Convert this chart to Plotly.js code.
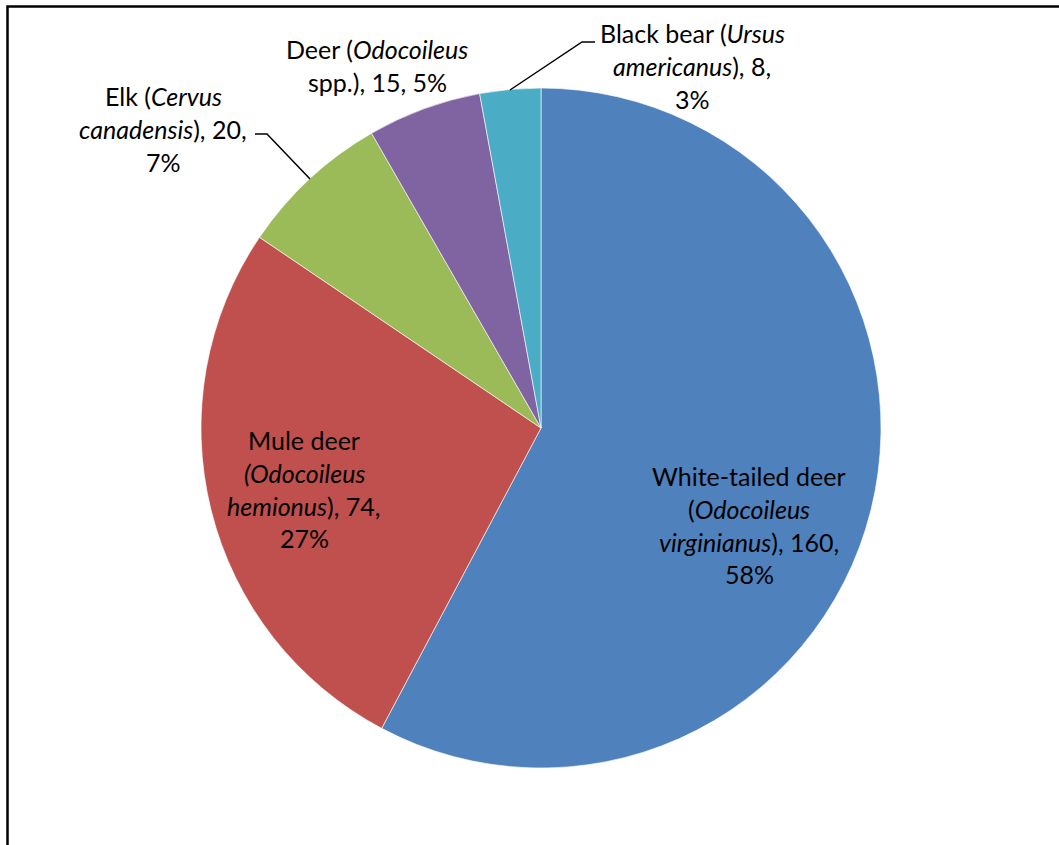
<!DOCTYPE html>
<html>
<head>
<meta charset="utf-8">
<script src="https://cdn.plot.ly/plotly-3.0.1.min.js"></script>
<style>html,body{margin:0;padding:0;background:#fff;}#chart{width:1059px;height:845px;}</style>
</head>
<body>
<div id="chart"></div>
<script>
// ---- data ----
const categories = ["White-tailed deer", "Mule deer", "Elk", "Deer", "Black bear"];
const scientificNames = ["Odocoileus virginianus", "Odocoileus hemionus", "Cervus canadensis", "Odocoileus spp.", "Ursus americanus"];
const values = [160, 74, 20, 15, 8];
const colors = ["#4F81BD", "#C0504D", "#9BBB59", "#8064A2", "#4BACC6"];

const total = values.reduce((a, b) => a + b, 0);
const pcts = values.map(v => Math.round(100 * v / total));

// label text lines ({v} = value, {p} = percent)
const labelLines = [
  ["White-tailed deer", "(<i>Odocoileus</i>", "<i>virginianus</i>), {v},", "{p}%"],
  ["Mule deer", "<i>(Odocoileus</i>", "<i>hemionus</i>), {v},", "{p}%"],
  ["Elk (<i>Cervus</i>", "<i>canadensis</i>), {v},", "{p}%"],
  ["Deer (<i>Odocoileus</i>", "spp.), {v}, {p}%"],
  ["Black bear (<i>Ursus</i>", "<i>americanus</i>), {v},", "{p}%"]
];

// ---- layout helpers (pixel positions) ----
const W = 1059, H = 845;
const px = x => x / W;
const py = y => 1 - y / H;
const labelPos = [ // [center x, first line y]
  [749, 476], [304, 440], [163, 96], [377, 49], [692, 33]
];
const lineGap = 32.8;
const font = {family: "Lato, 'Open Sans', sans-serif", size: 25, color: "#000"};

const annotations = [];
labelLines.forEach((lines, i) => {
  lines.forEach((t, j) => {
    annotations.push({
      xref: "paper", yref: "paper",
      x: px(labelPos[i][0]), y: py(labelPos[i][1] + j * lineGap),
      xanchor: "center", yanchor: "middle",
      text: t.replace("{v}", values[i]).replace("{p}", pcts[i]),
      showarrow: false, font: font
    });
  });
});

const pathPx = pts => "M " + pts.map(p => px(p[0]) + "," + py(p[1])).join(" L ");
const shapes = [
  {type: "path", xref: "paper", yref: "paper", path: pathPx([[7.5, 845], [7.5, 6.5], [1059, 6.5]]),
   line: {color: "#000", width: 2.5}},
  {type: "path", xref: "paper", yref: "paper", path: pathPx([[255, 134], [267, 134], [310, 179]]),
   line: {color: "#000", width: 1.5}},
  {type: "path", xref: "paper", yref: "paper", path: pathPx([[510, 90], [582, 42], [595, 42]]),
   line: {color: "#000", width: 1.5}}
];

const trace = {
  type: "pie",
  labels: categories,
  values: values,
  sort: false,
  direction: "clockwise",
  rotation: 0,
  textinfo: "none",
  hoverinfo: "label+value+percent",
  marker: {colors: colors, line: {color: "rgba(255,255,255,0.6)", width: 1}},
  domain: {x: [201 / W, 881 / W], y: [1 - 768 / H, 1 - 88 / H]},
  showlegend: false
};

const layout = {
  width: W, height: H,
  margin: {l: 0, r: 0, t: 0, b: 0},
  paper_bgcolor: "#fff",
  showlegend: false,
  annotations: annotations,
  shapes: shapes
};

Plotly.newPlot("chart", [trace], layout, {displayModeBar: false, staticPlot: true});
</script>
</body>
</html>
